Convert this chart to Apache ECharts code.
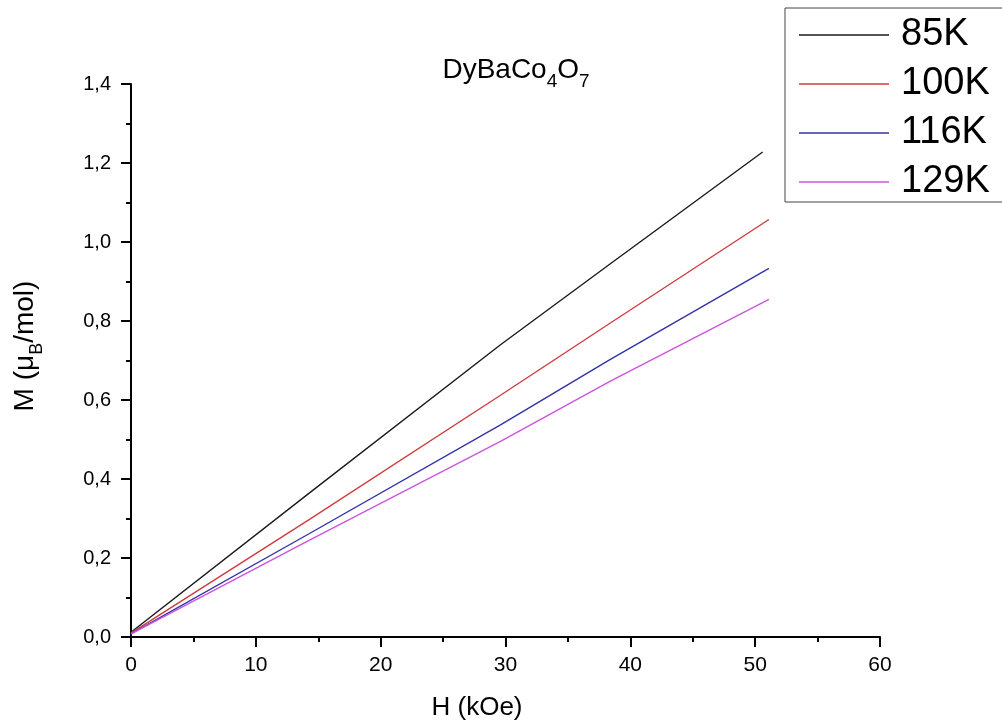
<!DOCTYPE html>
<html>
<head>
<meta charset="utf-8">
<script src="https://cdn.jsdelivr.net/npm/echarts@6/dist/echarts.min.js"></script>
<style>
  html, body { margin: 0; padding: 0; background: #fff; }
  #chart { width: 1002px; height: 727px; }
</style>
</head>
<body>
<div id="chart"></div>
<script>
// Magnetisation isotherms M(H) of DyBaCo4O7
const seriesNames = ['85K', '100K', '116K', '129K'];

const field85 = [0, 14.3, 29.6, 38.4, 50.6];
const moment85 = [0.012, 0.365, 0.74, 0.945, 1.228];

const field100 = [0, 14.3, 29.6, 38.4, 51.1];
const moment100 = [0.01, 0.298, 0.612, 0.795, 1.057];

const field116 = [0, 14.3, 29.6, 38.4, 51.1];
const moment116 = [0.008, 0.262, 0.537, 0.703, 0.933];

const field129 = [0, 14.3, 29.6, 38.4, 51.1];
const moment129 = [0.008, 0.245, 0.495, 0.648, 0.855];

const xTicks = [0, 10, 20, 30, 40, 50, 60];
const yTicks = [0, 0.2, 0.4, 0.6, 0.8, 1.0, 1.2, 1.4];

const lineColors = ['#1a1a1a', '#d03c3c', '#3333a8', '#cc55dd'];
const FONT = '"Liberation Sans", Arial, sans-serif';

const pairs = (xs, ys) => xs.map((x, i) => [x, ys[i]]);
const curves = [
  pairs(field85, moment85),
  pairs(field100, moment100),
  pairs(field116, moment116),
  pairs(field129, moment129)
];

const axisCommon = {
  type: 'value',
  axisLine: { show: true, lineStyle: { color: '#000', width: 2 } },
  axisTick: { show: true, inside: false, length: 10, lineStyle: { color: '#000', width: 2 } },
  minorTick: { show: true, splitNumber: 2, length: 5, lineStyle: { color: '#000', width: 2 } },
  splitLine: { show: false },
  minorSplitLine: { show: false }
};

const chart = echarts.init(document.getElementById('chart'), null, { renderer: 'canvas' });

const titleRich = {
  n: { fontSize: 28, fontFamily: FONT, color: '#000', verticalAlign: 'bottom', padding: [0, 0, 7, 0] },
  s: { fontSize: 19, fontFamily: FONT, color: '#000', verticalAlign: 'bottom' }
};
const nameRich = {
  n: { fontSize: 28, fontFamily: FONT, color: '#000', verticalAlign: 'bottom', padding: [0, 0, 7, 0] },
  s: { fontSize: 18, fontFamily: FONT, color: '#000', verticalAlign: 'bottom' }
};

chart.setOption({
  animation: false,
  backgroundColor: '#fff',
  grid: { left: 131, right: 122, top: 84, bottom: 90, containLabel: false },
  xAxis: Object.assign({}, axisCommon, {
    min: xTicks[0],
    max: xTicks[xTicks.length - 1],
    interval: xTicks[1] - xTicks[0],
    axisLabel: { fontSize: 21, fontFamily: FONT, color: '#000', margin: 18 }
  }),
  yAxis: Object.assign({}, axisCommon, {
    min: yTicks[0],
    max: yTicks[yTicks.length - 1],
    interval: 0.2,
    axisLabel: {
      fontSize: 20, fontFamily: FONT, color: '#000', margin: 20,
      formatter: v => v.toFixed(1).replace('.', ',')
    }
  }),
  legend: {
    orient: 'vertical',
    left: 785,
    top: 8,
    icon: 'rect',
    itemWidth: 90,
    itemHeight: 1.6,
    itemGap: 11,
    padding: [8, 60, 1, 14],
    borderColor: '#444',
    borderWidth: 1,
    backgroundColor: '#fff',
    selectedMode: false,
    textStyle: { fontSize: 38, lineHeight: 38, fontFamily: FONT, color: '#000', padding: [0, 0, 0, 7] },
    data: seriesNames
  },
  graphic: [
    {
      type: 'text', x: 516, y: 74,
      style: { text: '{n|DyBaCo}{s|4}{n|O}{s|7}', rich: titleRich, align: 'center', verticalAlign: 'middle' }
    },
    {
      type: 'text', x: 477, y: 708,
      style: { text: 'H (kOe)', fontSize: 26, fontFamily: FONT, fill: '#000', align: 'center', verticalAlign: 'middle' }
    },
    {
      type: 'text', x: 29, y: 346, rotation: Math.PI / 2,
      style: { text: '{n|M (μ}{s|B}{n|/mol)}', rich: nameRich, align: 'center', verticalAlign: 'middle' }
    }
  ],
  series: seriesNames.map((name, i) => ({
    name,
    type: 'line',
    data: curves[i],
    showSymbol: false,
    symbol: 'none',
    smooth: false,
    color: lineColors[i],
    lineStyle: { color: lineColors[i], width: 1.4 }
  }))
});
</script>
</body>
</html>
